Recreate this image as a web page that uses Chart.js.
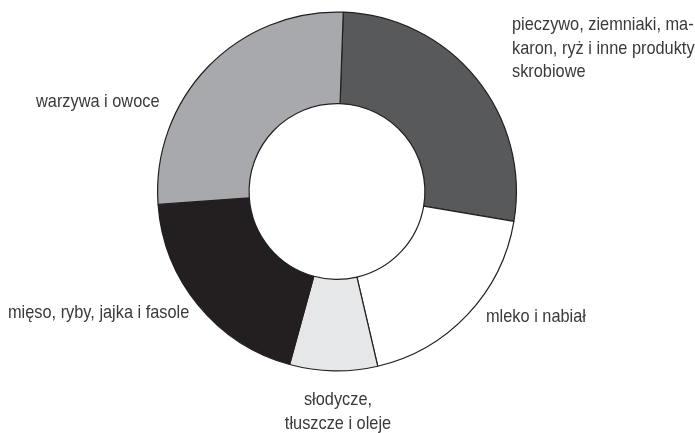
<!DOCTYPE html>
<html>
<head>
<meta charset="utf-8">
<script src="https://cdn.jsdelivr.net/npm/chart.js@4"></script>
<style>
  html, body { margin: 0; padding: 0; background: #fff; }
  #wrap { width: 695px; height: 433px; position: relative; }
</style>
</head>
<body>
<div id="wrap"><canvas id="c" width="695" height="433"></canvas></div>
<script>
const categories = [
  "pieczywo, ziemniaki, makaron, ryż i inne produkty skrobiowe",
  "mleko i nabiał",
  "słodycze, tłuszcze i oleje",
  "mięso, ryby, jajka i fasole",
  "warzywa i owoce"
];
const shares = [27.1, 18.7, 7.9, 19.6, 26.7];
const sliceColors = ["#58595b", "#ffffff", "#e6e7e8", "#231f20", "#a7a9ac"];
const labelLines = [
  ["pieczywo, ziemniaki, ma-", "karon, ryż i inne produkty", "skrobiowe"],
  ["mleko i nabiał"],
  ["słodycze,", "tłuszcze i oleje"],
  ["mięso, ryby, jajka i fasole"],
  ["warzywa i owoce"]
];

// label anchor positions (styling only)
const labelPos = [
  { x: 512, y: 25, align: "left" },
  { x: 486, y: 317, align: "left" },
  { x: 338, y: 400, align: "center" },
  { x: 8, y: 313, align: "left" },
  { x: 36, y: 102, align: "left" }
];

const FONT = "19px 'Liberation Sans', Arial, sans-serif";
const CONDENSE = 0.86;

const labelPlugin = {
  id: "sliceLabels",
  afterDraw(chart) {
    const ctx = chart.ctx;
    labelLines.forEach((lines, i) => {
      const p = labelPos[i];
      lines.forEach((t, j) => {
        ctx.save();
        ctx.font = FONT;
        ctx.fillStyle = "#3a3a3a";
        ctx.textBaseline = "middle";
        ctx.textAlign = p.align;
        ctx.translate(p.x, p.y + j * 23.5);
        ctx.scale(CONDENSE, 1);
        ctx.fillText(t, 0, 0);
        ctx.restore();
      });
    });
  }
};

new Chart(document.getElementById("c"), {
  type: "doughnut",
  data: {
    labels: categories,
    datasets: [{
      data: shares,
      backgroundColor: sliceColors,
      borderColor: "#231f20",
      borderWidth: 1.2,
      borderAlign: "center"
    }]
  },
  options: {
    responsive: false,
    animation: false,
    rotation: 2,
    cutout: "49%",
    layout: { padding: { top: 11, bottom: 61, left: 157, right: 178 } },
    plugins: {
      legend: { display: false },
      tooltip: { enabled: false }
    }
  },
  plugins: [labelPlugin]
});
</script>
</body>
</html>
